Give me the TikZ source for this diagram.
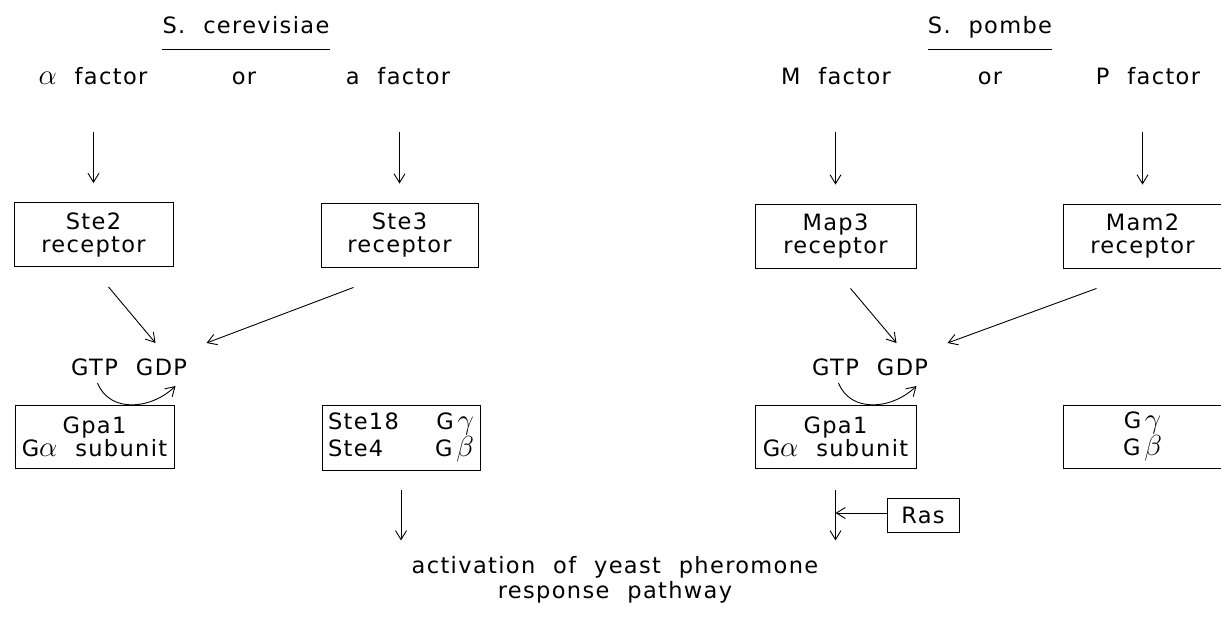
\documentclass[tikz,border=0pt]{standalone}
\usepackage{fix-cm}
\usepackage{fontspec}
\setmainfont{DejaVu Sans}[LetterSpace=6,WordSpace=2.1]
\usetikzlibrary{arrows.meta}
\newcommand\grk[1]{{\fontsize{29}{29}\selectfont$#1$}}
\begin{document}
\begin{tikzpicture}[x=1pt,y=-1pt,
  lbl/.style={inner sep=0pt,font=\fontsize{22.5}{23}\selectfont},
  box/.style={draw,line width=0.9pt,minimum width=159pt,minimum height=64pt,inner sep=0pt,align=center,font=\fontsize{22.5}{23}\selectfont},
  arr/.style={line width=0.9pt,-{Straight Barb[length=9pt,width=11pt]}},
  ln/.style={line width=0.9pt}
]
\useasboundingbox (0,0) rectangle (1221,616);
% titles
\node[lbl,anchor=base] (t1) at (246,33) {S. cerevisiae};
\node[lbl,anchor=base] (t2) at (990,33) {S. pombe};
\draw[ln] ([shift={(0,16)}]t1.base west) -- ([shift={(0,16)}]t1.base east);
\draw[ln] ([shift={(0,16)}]t2.base west) -- ([shift={(0,16)}]t2.base east);
% factors
\node[lbl,anchor=base] (af) at (93,84) {\grk{\alpha} factor};
\node[lbl,anchor=base] (or1) at (244,84) {or};
\node[lbl,anchor=base] (aF) at (398,84) {a factor};
\node[lbl,anchor=base] (mf) at (836,84) {M factor};
\node[lbl,anchor=base] (or2) at (990,84) {or};
\node[lbl,anchor=base] (pf) at (1148,84) {P factor};
% receptor boxes
\node[box] (ste2) at (93.5,234.5) {Ste2\\receptor};
\node[box,minimum width=157pt] (ste3) at (399.5,235) {Ste3\\receptor};
\node[box,minimum width=161pt] (map3) at (835.5,236) {Map3\\receptor};
\node[box] (mam2) at (1142.5,236) {Mam2\\receptor};
% top arrows
\draw[arr] (ste2.north) ++(0,-70) -- ++(0,51);
\draw[arr] (ste3.north) ++(0,-71) -- ++(0,52);
\draw[arr] (map3.north) ++(0,-72) -- ++(0,53);
\draw[arr] (mam2.north) ++(0,-72) -- ++(0,53);
% GTP GDP
\node[lbl,anchor=base] (gtpL) at (94.5,375) {GTP};
\node[lbl,anchor=base] (gdpL) at (161.5,375) {GDP};
\node[lbl,anchor=base] (gtpR) at (835.5,375) {GTP};
\node[lbl,anchor=base] (gdpR) at (902.5,375) {GDP};
% receptor -> GDP arrows
\draw[arr] ([shift={(15,20)}]ste2.south) -- ([shift={(-6,-32)}]gdpL.base);
\draw[arr] ([shift={(-46,20)}]ste3.south) -- ([shift={(45,-32)}]gdpL.base);
\draw[arr] ([shift={(15,20)}]map3.south) -- ([shift={(-6,-32)}]gdpR.base);
\draw[arr] ([shift={(-46,20)}]mam2.south) -- ([shift={(45,-32)}]gdpR.base);
% GTP -> GDP curves
\draw[arr] ([shift={(3,8)}]gtpL.base) .. controls +(12,30) and +(-25,24) .. ([shift={(14,11)}]gdpL.base);
\draw[arr] ([shift={(3,8)}]gtpR.base) .. controls +(12,30) and +(-25,24) .. ([shift={(14,11)}]gdpR.base);
% G protein boxes
\node[box,minimum height=63pt] (gpaL) at (94.5,436.5) {Gpa1\\G\grk{\alpha} subunit};
\node[box,minimum width=158pt,minimum height=65pt] (ste18) at (401,437.5)
  {\makebox[146pt]{Ste18\hfill G\,\grk{\gamma}}\\\makebox[146pt]{Ste4\hfill G\,\grk{\beta}}};
\node[box,minimum width=161pt,minimum height=63pt] (gpaR) at (835.5,436.5) {Gpa1\\G\grk{\alpha} subunit};
\node[box,minimum height=63pt] (ggR) at (1142.5,436.5) {G\,\grk{\gamma}\\G\,\grk{\beta}};
% lower arrows
\draw[arr] (ste18.south) ++(0,20) -- ++(0,50);
\draw[arr] (gpaR.south) ++(0,22) -- ++(0,50);
\node[draw,ln,minimum width=72pt,minimum height=34pt,inner sep=0pt,font=\fontsize{22.5}{23}\selectfont] (ras) at (923,515) {Ras};
\draw[arr] ([shift={(0,-2)}]ras.west) -- ([shift={(0,-2)}]ras.west -| gpaR.south);
% result
\node[inner sep=0pt,align=center,font=\fontsize{22.5}{25}\selectfont] (act) at (615,580) {activation of yeast pheromone\\response pathway};
\end{tikzpicture}
\end{document}
